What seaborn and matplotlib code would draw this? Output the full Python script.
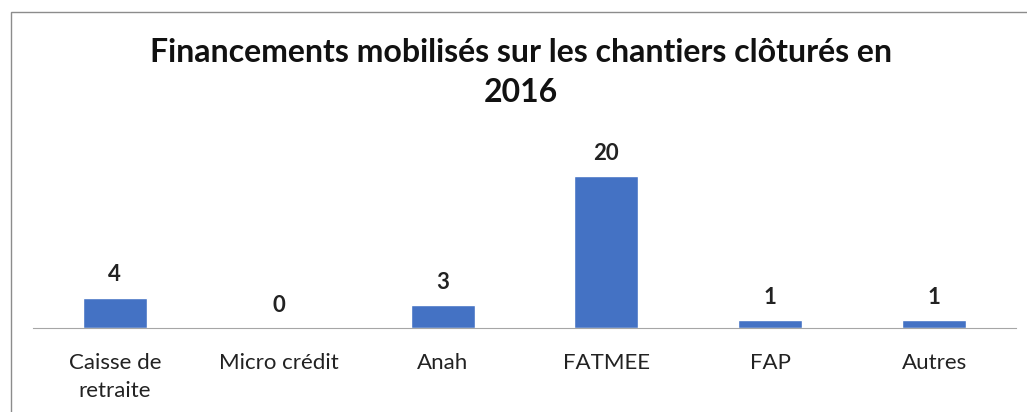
import matplotlib
matplotlib.use("Agg")
import matplotlib.pyplot as plt
import pandas as pd
import seaborn as sns
from matplotlib.patches import Rectangle

categories = ["Caisse de\nretraite", "Micro crédit", "Anah", "FATMEE", "FAP", "Autres"]
values = [4, 0, 3, 20, 1, 1]

df = pd.DataFrame({"categorie": categories, "valeur": values})

sns.set_style("white")
plt.rcParams['font.family'] = ['Lato', 'DejaVu Sans']

fig = plt.figure(figsize=(10.27, 4.12), dpi=100)
ax = fig.add_axes([0.0321, 0.2039, 0.9572, 0.461])

sns.barplot(data=df, x="categorie", y="valeur", color="#4472C4", width=0.39,
            saturation=1, ax=ax)

ax.set_xlim(-0.5, len(categories) - 0.5)
ax.set_ylim(0, 25)

# data labels
for i, v in enumerate(values):
    ax.text(i, v + 1.6, str(v), ha='center', va='bottom', fontsize=16,
            fontweight='bold', color='#222222')

# axis: baseline only, ticks at category boundaries
for s in ['top', 'right', 'left']:
    ax.spines[s].set_visible(False)
ax.spines['bottom'].set_color('#A6A6A6')
ax.set_yticks([])
ax.set_xticks([x - 0.5 for x in range(len(categories) + 1)], minor=True)
ax.tick_params(axis='x', which='minor', length=8, color='#A6A6A6', width=1)
ax.tick_params(axis='x', which='major', length=0, pad=18, labelsize=16,
               labelcolor='#222222')
for lbl in ax.get_xticklabels():
    lbl.set_linespacing(1.5)
ax.set_xlabel("")
ax.set_ylabel("")

fig.text(0.507, 0.8235, "Financements mobilisés sur les chantiers clôturés en\n2016",
         ha='center', va='center', fontsize=23, fontweight='bold',
         linespacing=1.48, color='#111111')

# outer frame of the chart area
fig.patches.append(Rectangle((11 / 1027, -0.1), 1.2, 1 - 12 / 412 + 0.1,
                             transform=fig.transFigure, fill=False,
                             edgecolor='#8C8C8C', linewidth=1))

fig.savefig("out.png", dpi=100)
